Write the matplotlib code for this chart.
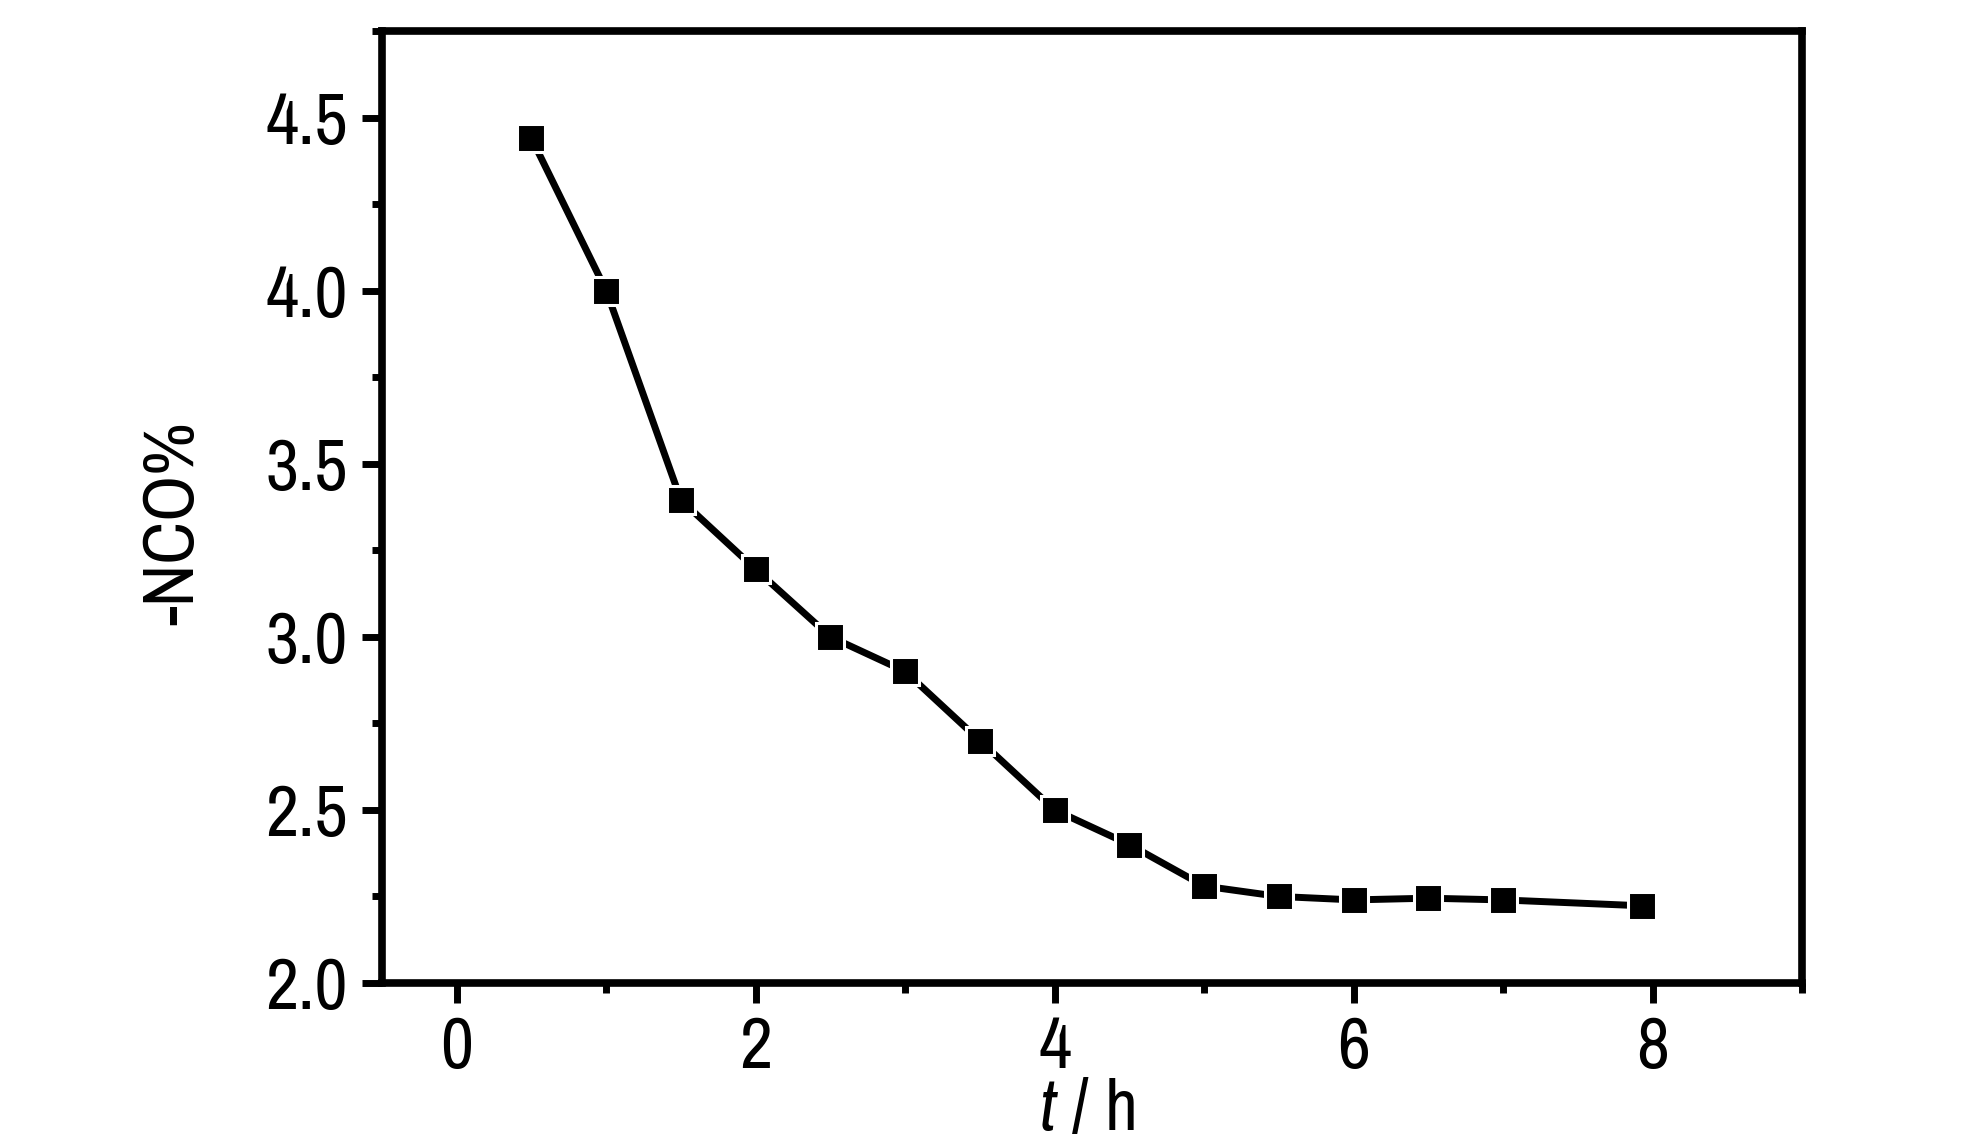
import numpy as np
import matplotlib
matplotlib.use('Agg')
import matplotlib.pyplot as plt
from matplotlib.ticker import MultipleLocator, FormatStrFormatter

# reaction time (h) and -NCO content (%)
t_h = [0.5, 1.0, 1.5, 2.0, 2.5, 3.0, 3.5, 4.0, 4.5, 5.0, 5.5, 6.0, 6.5, 7.0, 7.93]
nco = [4.44, 4.0, 3.395, 3.195, 3.0, 2.9, 2.7, 2.5, 2.4, 2.28, 2.25, 2.24, 2.245, 2.24, 2.223]

fam = 'Archivo Narrow'
plt.rcParams['font.family'] = [fam, 'DejaVu Sans']
plt.rcParams['mathtext.fontset'] = 'custom'
plt.rcParams['mathtext.it'] = fam + ':italic'
plt.rcParams['mathtext.rm'] = fam

fig = plt.figure(figsize=(19.84, 11.46), dpi=100)
ax = fig.add_axes([382/1984, 1-983/1146, (1802-382)/1984, (983-31)/1146])

ax.plot(t_h, nco, color='black', lw=5, marker='s', ms=20.2,
        mfc='black', mec='white', mew=2.2)

ax.set_xlim(-0.5, 9)
ax.set_ylim(2.0, 4.75)
ax.xaxis.set_major_locator(MultipleLocator(2))
ax.xaxis.set_minor_locator(MultipleLocator(1))
ax.yaxis.set_major_locator(MultipleLocator(0.5))
ax.yaxis.set_minor_locator(MultipleLocator(0.25))
ax.yaxis.set_major_formatter(FormatStrFormatter('%.1f'))

for s in ax.spines.values():
    s.set_linewidth(5.5)
ax.tick_params(which='both', direction='out', top=False, right=False, width=5, labelsize=52)
ax.tick_params(which='major', length=14.5)
ax.tick_params(which='minor', length=7)
ax.tick_params(axis='x', pad=9)
ax.tick_params(axis='y', pad=10)

fig.text(174/1984, 1-523/1146, '-NCO%', rotation=90, fontsize=52, ha='center', va='center')
fig.text(1087/1984, 16/1146, r'$t$ / h', fontsize=52, ha='center', va='baseline')

fig.savefig('out.png', dpi=100)
